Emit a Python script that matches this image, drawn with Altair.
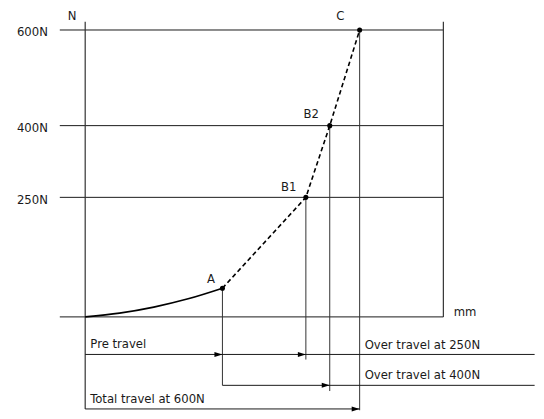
import altair as alt
import pandas as pd

# ---- data ----
point_names = ["A", "B1", "B2", "C"]
point_travel = [2.0, 3.216, 3.564, 4.0]      # mm
point_force = [60, 250, 400, 600]           # N

curve_travel = [0.0, 0.5, 1.0, 1.5, 2.0]    # solid pre-travel curve
curve_force = [0.0, 7.9, 20.5, 37.8, 60.0]

force_levels = [600, 400, 250]
level_labels = ["600N", "400N", "250N"]

row_pre = -78.5       # arrow row levels (below the travel axis)
row_over = -143.1
row_total = -192.5

box_left = -0.37
box_right = 5.22
row_end = 6.55
axis_top = 617

FONT = "DejaVu Sans Condensed, Roboto Condensed, Liberation Sans Narrow, Arial Narrow, sans-serif"
FS = 13
INK = "#1a1a1a"

xs = alt.Scale(domain=[-1.125, 6.541], nice=False, zero=False)
ys = alt.Scale(domain=[-195.2, 644.4], nice=False, zero=False)


def X(f="x"):
    return alt.X(f"{f}:Q", scale=xs, axis=None)


def Y(f="y"):
    return alt.Y(f"{f}:Q", scale=ys, axis=None)


def rules(df, color=INK, width=1.0):
    return alt.Chart(df).mark_rule(color=color, strokeWidth=width).encode(
        x=X(), x2="x2:Q", y=Y(), y2="y2:Q"
    )


hlines = pd.DataFrame({
    "x": [box_left] * 4, "x2": [box_right] * 4,
    "y": force_levels + [0], "y2": force_levels + [0],
})
vframe = pd.DataFrame({
    "x": [0, box_right], "x2": [0, box_right],
    "y": [row_total, 0], "y2": [axis_top, axis_top],
})
drops = pd.DataFrame({
    "x": point_travel, "x2": point_travel,
    "y": point_force,
    "y2": [row_over, -89.2, -155.0, -195.2],
})
rows = pd.DataFrame({
    "x": [0, point_travel[0], 0],
    "x2": [row_end, row_end, point_travel[3]],
    "y": [row_pre, row_over, row_total],
    "y2": [row_pre, row_over, row_total],
})
arrows = pd.DataFrame({
    "x": [point_travel[0], point_travel[1], point_travel[2], point_travel[3]],
    "y": [row_pre, row_pre, row_over, row_total],
})

pts = pd.DataFrame({"name": point_names, "x": point_travel, "y": point_force})
curve = pd.DataFrame({"x": curve_travel, "y": curve_force})

layers = [
    rules(hlines, INK, 1.0),
    rules(vframe, "#333333", 1.2),
    rules(drops, "#333333", 1.0),
    rules(rows, INK, 1.0),
    alt.Chart(arrows).mark_point(
        shape="M0,0L-1,-0.31L-1,0.31Z", size=256, filled=True, color="black", opacity=1
    ).encode(x=X(), y=Y()),
    alt.Chart(curve).mark_line(color="black", strokeWidth=1.6, interpolate="monotone").encode(
        x=X(), y=Y()
    ),
    alt.Chart(pts).mark_line(
        color="black", strokeWidth=1.6, strokeDash=[4.5, 3]
    ).encode(x=X(), y=Y()),
    alt.Chart(pts).mark_point(filled=True, color="black", size=26, opacity=1).encode(
        x=X(), y=Y()
    ),
]

label_offsets = {"A": (-11.6, -9), "B1": (-17.3, -10.3), "B2": (-18.5, -12), "C": (-19.3, -14.3)}
for nm in point_names:
    dx, dy = label_offsets[nm]
    layers.append(
        alt.Chart(pts).transform_filter(alt.datum.name == nm).mark_text(
            font=FONT, fontSize=FS, color=INK, align="center", baseline="middle", dx=dx, dy=dy
        ).encode(x=X(), y=Y(), text="name:N")
    )

lev = pd.DataFrame({"x": [-0.544] * 3, "y": force_levels, "t": level_labels})
layers.append(
    alt.Chart(lev).mark_text(
        font=FONT, fontSize=FS, color=INK, align="right", baseline="middle", dy=2.5
    ).encode(x=X(), y=Y(), text="t:N")
)

texts = pd.DataFrame({
    "x": [-0.189, 5.535],
    "y": [630, 9.6],
    "t": ["N", "mm"],
})
layers.append(
    alt.Chart(texts).mark_text(
        font=FONT, fontSize=FS, color=INK, align="center", baseline="middle"
    ).encode(x=X(), y=Y(), text="t:N")
)
captions = pd.DataFrame({
    "x": [0.075, 4.073, 4.073, 0.075],
    "y": [-57.7, -59.8, -122.3, -171.5],
    "t": ["Pre travel", "Over travel at 250N", "Over travel at 400N", "Total travel at 600N"],
})
layers.append(
    alt.Chart(captions).mark_text(
        font=FONT, fontSize=FS, color=INK, align="left", baseline="middle"
    ).encode(x=X(), y=Y(), text="t:N")
)

chart = alt.layer(*layers).properties(
    width=528, height=403, padding=0, background="white"
).configure_view(stroke=None)

chart.save("out.html", embed_options={"renderer": "svg", "actions": False})
